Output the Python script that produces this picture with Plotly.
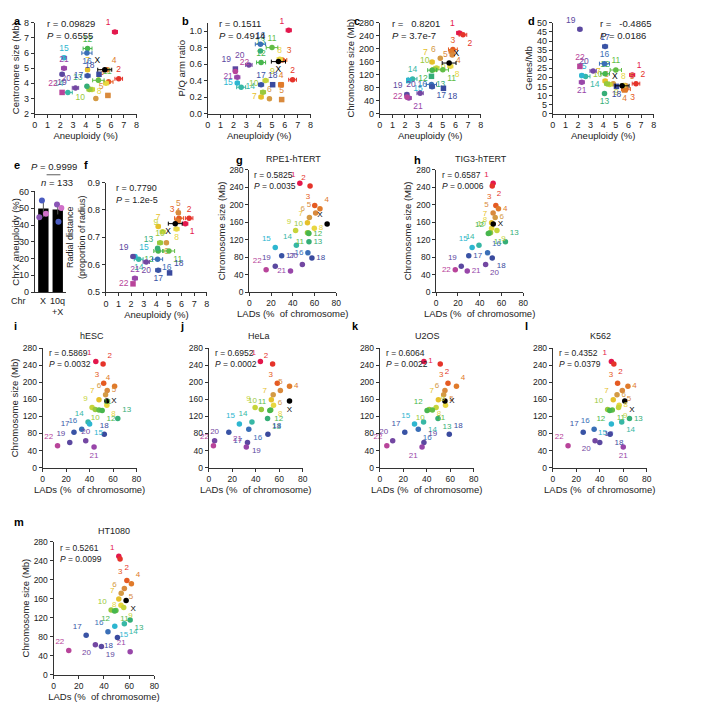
import plotly.graph_objects as go

W, H = 707, 718
FONT = "Liberation Sans, Arial, sans-serif"

# ---------------- data ----------------
chroms = ['1','2','3','4','5','6','7','8','9','10','11','12','13','14','15','16','17','18','19','20','21','22','X']
aneuploidy = [6.3, 6.6, 5.8, 5.7, 5.75, 4.8, 4.15, 5.6, 4.5, 4.3, 5.0, 4.15, 4.1, 2.6, 2.3, 4.1, 4.15, 5.05, 2.15, 3.2, 2.3, 2.15, 5.5]
aneuploidy_err = [0.2, 0.3, 0.35, 0.2, 0.15, 0.1, 0.15, 0.2, 0.2, 0.2, 0.45, 0.35, 0.1, 0.35, 0.15, 0.4, 0.2, 0.1, 0.15, 0.25, 0.2, 0.1, 0.55]
centromere = [7.4, 4.3, 4.1, 4.9, 3.2, 3.0, 4.9, 4.0, 3.6, 3.6, 4.2, 6.3, 3.8, 3.4, 5.7, 6.0, 4.5, 4.6, 4.6, 3.7, 5.0, 3.4, 4.9]
pq_ratio = [1.01, 0.41, 0.65, 0.35, 0.17, 0.18, 0.2, 0.66, 0.4, 0.26, 0.8, 0.62, 0.76, 0.32, 0.37, 0.84, 0.35, 0.35, 0.54, 0.59, 0.44, 0.51, 0.63]
chrom_size = [249, 243, 198, 191, 181, 171, 159, 146, 141, 136, 135, 134, 115, 107, 102, 90, 83, 78, 59, 63, 48, 51, 156]
genes_per_mb = [21.3, 16.5, 13.5, 13.0, 15.5, 16.5, 18.0, 15.5, 16.0, 16.5, 24.0, 22.0, 11.0, 20.5, 21.0, 27.5, 37.0, 15.0, 46.5, 23.5, 17.3, 26.0, 15.3]
radial = [0.75, 0.77, 0.77, 0.76, 0.79, 0.68, 0.74, 0.73, 0.72, 0.68, 0.65, 0.65, 0.66, 0.62, 0.63, 0.62, 0.58, 0.57, 0.63, 0.61, 0.55, 0.53, 0.75]

lad_rpe1 = [46.5, 55.9, 60.2, 65.0, 61.0, 55.3, 53.5, 59.8, 42.6, 53.5, 54.4, 54.8, 54.9, 43.3, 23.9, 53.9, 29.8, 57.6, 23.9, 48.8, 37.9, 15.5, 71.6]
lad_tig3 = [52.4, 51.6, 54.9, 57.3, 52.4, 54.3, 51.0, 51.0, 55.9, 50.0, 49.0, 48.0, 63.7, 39.4, 33.1, 47.3, 30.0, 51.6, 23.1, 45.5, 28.6, 17.6, 52.5]
lad_hesc = [45.3, 51.5, 52.0, 61.3, 55.0, 53.6, 48.0, 54.7, 42.1, 44.8, 48.0, 50.7, 64.0, 38.7, 40.0, 33.3, 26.7, 52.5, 23.1, 36.7, 43.8, 12.7, 54.7]
lad_hela = [44.0, 54.4, 58.4, 68.8, 61.0, 54.9, 53.3, 55.2, 39.5, 44.8, 52.8, 52.0, 50.1, 36.8, 26.1, 34.1, 17.1, 50.4, 33.0, 5.0, 32.0, 4.0, 68.8]
lad_u2os = [37.6, 51.5, 58.1, 65.3, 55.5, 54.4, 49.9, 56.0, 48.0, 42.1, 44.8, 40.3, 49.6, 37.3, 29.6, 32.8, 21.3, 59.2, 37.6, 11.0, 36.0, 6.0, 55.5]
lad_k562 = [49.9, 52.0, 55.2, 64.0, 59.2, 54.7, 51.5, 56.5, 56.0, 46.7, 50.7, 48.5, 65.3, 58.7, 49.9, 35.2, 25.9, 48.8, 40.0, 36.0, 60.0, 13.0, 61.3]
lad_ht1080 = [51.8, 52.8, 58.2, 61.8, 56.2, 53.7, 51.8, 53.5, 55.7, 45.7, 49.5, 48.4, 60.8, 56.2, 48.6, 43.2, 25.9, 50.7, 38.0, 33.2, 60.8, 12.1, 57.6]

e_categories = ['X', '10q+X']
e_means = [49.8, 49.3]
e_err = [5.0, 3.0]
e_rep_values = [[54.6, 46.7, 44.7], [52.2, 50.2, 41.9]]

stats = {
    'a': ('0.09829', '0.6555'), 'b': ('0.1511', '0.4914'), 'c': ('  0.8201', '3.7e-7'),
    'd': ('  -0.4865', '0.0186'), 'f': ('0.7790', '1.2e-5'), 'g': ('0.5825', '0.0035'),
    'h': ('0.6587', '0.0006'), 'i': ('0.5869', '0.0032'), 'j': ('0.6952', '0.0002'),
    'k': ('0.6064', '0.0022'), 'l': ('0.4352', '0.0379'), 'm': ('0.5261', '0.0099'),
}

# ---------------- styles ----------------
colors = ['#E3174C', '#E5332A', '#E55A22', '#E07A2A', '#D98A3D', '#D49A44', '#E6C02A', '#E8D640',
          '#C6D43A', '#98C93C', '#62BD46', '#47B64D', '#35AE77', '#37B7A5', '#2DB6D0', '#3A6FB7',
          '#3953A5', '#3A4A9E', '#5B48A0', '#7347A2', '#9846A9', '#B8449A', '#000000']
rep_colors = [['#4A5BC0', '#D070C8', '#8A55B5'], ['#8A55B5', '#D070C8', '#4A5BC0']]

POS = {'tl': 'top left', 'tc': 'top center', 'tr': 'top right', 'ml': 'middle left',
       'mr': 'middle right', 'bl': 'bottom left', 'bc': 'bottom center', 'br': 'bottom right'}
labpos = {
    'a': ['tl','tc','tl','tr','tl','tl','tc','bl','tr','bl','tr','tc','tl','tl','tc','bc','ml','tl','bc','tl','tc','tl','tl'],
    'b': ['tl','tc','tr','tc','tc','tc','ml','tc','tr','tl','tc','tc','tc','mr','ml','tc','tc','tc','tl','tl','ml','tr','bc'],
    'c': ['tl','br','tc','br','ml','tl','tl','br','mr','tl','br','bl','br','tc','br','ml','br','br','tl','tl','br','ml','tr'],
    'd': ['tr','tr','br','bc','tr','tl','tl','tc','br','tl','tc','tc','bc','br','tc','tc','tc','bc','tl','tl','bc','tc','tl'],
    'f': ['br','tc','tl','tc','tc','bc','tc','bc','tl','tc','br','bl','tl','bc','tr','br','bc','tr','tl','bc','tc','ml','bl'],
    'g': ['tl','tl','tl','tr','tl','tl','tl','mr','tl','tl','bl','mr','mr','tl','tl','ml','mr','mr','tl','tl','ml','tl','tl'],
    'h': ['tl','br','tl','mr','tl','mr','tl','tl','br','tl','br','tl','tr','tl','tl','tr','mr','br','tl','br','mr','ml','mr'],
    'i': ['tl','tr','tl','tl','mr','tl','tl','br','tl','bc','tr','br','tr','tl','br','tl','tl','tc','tl','tc','bc','tl','mr'],
    'j': ['tl','tl','tl','mr','tc','br','tl','br','tl','tl','tl','br','br','tl','tl','br','br','tr','br','tc','tl','tl','bc'],
    'k': ['mr','br','tl','tr','br','tl','tl','bl','tr','bl','br','tl','br','br','tl','br','tl','tr','tr','tl','bl','tl','mr'],
    'l': ['tl','br','tl','mr','br','mr','tl','mr','br','tl','br','bl','mr','br','bl','tl','tl','br','tr','bl','bc','tl','br'],
    'm': ['tl','br','tl','tr','br','tl','tl','ml','br','tl','br','bl','br','br','br','tl','tl','bl','br','bl','tl','tl','br'],
}
squares = {'a': {'5', '18', '22'}, 'b': {'4', '5', '18', '19'}, 'c': {'13', '15', '18'},
           'd': {'4', '18', '22'}, 'f': {'18', '22'}}

LAB = 8.5
TXT = '#222'

def pxx(x):
    return x / W

def pxy(y):
    return 1 - y / H

fig = go.Figure()
layout = {}
annotations = []
shapes = []
axn = [0]

def new_axes(x0, x1, y0, y1, xr, yr, xdt, ydt, xtitle=None, ytitle=None, yfmt=None, tick=9):
    axn[0] += 1
    n = axn[0]
    sfx = '' if n == 1 else str(n)
    common = dict(showline=True, linecolor='#333', linewidth=1, ticks='outside', ticklen=3,
                  tickwidth=1, tickcolor='#333', showgrid=False, zeroline=False,
                  tickfont=dict(size=tick, family=FONT, color=TXT))
    xa = dict(common, domain=[pxx(x0), pxx(x1)], range=xr, dtick=xdt, tick0=0,
              anchor='y' + sfx)
    ya = dict(common, domain=[pxy(y1), pxy(y0)], range=yr, dtick=ydt, tick0=0,
              anchor='x' + sfx)
    if xtitle:
        xa['title'] = dict(text=xtitle, font=dict(size=9.5, family=FONT, color=TXT), standoff=1)
    if ytitle:
        ya['title'] = dict(text=ytitle, font=dict(size=9.5, family=FONT, color=TXT), standoff=2)
    if yfmt:
        ya['tickformat'] = yfmt
    layout['xaxis' + sfx] = xa
    layout['yaxis' + sfx] = ya
    return 'x' + sfx, 'y' + sfx

def text_at(t, x, y, size=9.5, xanchor='center', yanchor='middle', angle=0, bold=False):
    annotations.append(dict(text=('<b>%s</b>' % t) if bold else t, x=pxx(x), y=pxy(y),
                            xref='paper', yref='paper', xanchor=xanchor, yanchor=yanchor,
                            textangle=angle, showarrow=False, align='center',
                            font=dict(size=size, family=FONT, color='black' if bold else TXT)))

def letter(t, x, y):
    text_at(t, x, y, size=11, xanchor='left', yanchor='top', bold=True)

def stat_text(key, x, y, size=9.5):
    r, p = stats[key]
    annotations.append(dict(text='r = %s<br><i>P</i> = %s' % (r, p), x=pxx(x), y=pxy(y),
                            xref='paper', yref='paper', xanchor='left', yanchor='top',
                            align='left', showarrow=False,
                            font=dict(size=size, family=FONT, color=TXT)))

def title_text(t, x, y):
    text_at(t, x, y, size=9, yanchor='bottom')

def aneu_panel(key, yvals, box, yr, ydt, ytitle, yfmt=None):
    x0, x1, y0, y1 = box
    xa, ya = new_axes(x0, x1, y0, y1, [0, 8], yr, 1, ydt, 'Aneuploidy (%)', ytitle, yfmt)
    for i, c in enumerate(chroms):
        sym = 'square' if c in squares.get(key, set()) else 'circle'
        fig.add_trace(go.Scatter(
            x=[aneuploidy[i]], y=[yvals[i]], xaxis=xa, yaxis=ya, mode='markers+text',
            text=[c], textposition=POS[labpos[key][i]],
            textfont=dict(size=LAB, family=FONT, color=colors[i]),
            marker=dict(size=5.5, color=colors[i], symbol=sym),
            error_x=dict(type='data', array=[aneuploidy_err[i]], color=colors[i],
                         thickness=1, width=2),
            showlegend=False, cliponaxis=False))

def lad_panel(key, lads, box, ytitle=True):
    x0, x1, y0, y1 = box
    xa, ya = new_axes(x0, x1, y0, y1, [0, 80], [0, 280], 20, 40,
                      'LADs (%  of chromosome)', 'Chromosome size (Mb)' if ytitle else None,
                      tick=8.5)
    fig.add_trace(go.Scatter(
        x=lads, y=chrom_size, xaxis=xa, yaxis=ya, mode='markers+text',
        text=chroms, textposition=[POS[p] for p in labpos[key]],
        textfont=dict(size=8, family=FONT, color=colors),
        marker=dict(size=5.5, color=colors), showlegend=False, cliponaxis=False))

# ---------------- row 1 ----------------
R1 = (10, 102)
aneu_panel('a', centromere, (24, 127) + R1, [2, 8], 1, 'Centromere size (Mb)')
aneu_panel('b', pq_ratio, (199, 303) + R1, [0, 1.1], 0.2, 'P/Q arm ratio', '.1f')
aneu_panel('c', chrom_size, (373, 475) + R1, [0, 280], 40, 'Chromosome size (Mb)')
aneu_panel('d', genes_per_mb, (548, 650) + R1, [0, 50], 5, 'Genes/Mb')
letter('a', 1, 0); letter('b', 171, 0); letter('c', 345, 0); letter('d', 521, 0)
stat_text('a', 34, 3); stat_text('b', 208, 3); stat_text('c', 383, 3); stat_text('d', 594, 3)

# ---------------- row 2 ----------------
R2 = (172, 283)
xa, ya = new_axes(24, 56, 181, 283, [-0.6, 1.6], [0, 60], 1, 10)
layout['xaxis' + xa[1:]]['showticklabels'] = False
layout['xaxis' + xa[1:]]['ticks'] = ''
fig.add_trace(go.Bar(x=[0, 1], y=e_means, xaxis=xa, yaxis=ya, width=0.72,
                     marker=dict(color='black', line=dict(width=0)),
                     error_y=dict(type='data', array=e_err, color='#555', thickness=1, width=0),
                     showlegend=False))
for k in range(2):
    offs = [-0.1, 0.18, -0.28] if k == 0 else [-0.05, 0.25, 0.05]
    for j in range(3):
        fig.add_trace(go.Scatter(x=[k + offs[j]], y=[e_rep_values[k][j]], xaxis=xa, yaxis=ya,
                                 mode='markers', marker=dict(size=6, color=rep_colors[k][j]),
                                 showlegend=False, cliponaxis=False))
text_at('ChrX aneuploidy (%)', 5, 232, angle=-90)
text_at('<i>P</i> = 0.9999', 43, 156)
shapes.append(dict(type='line', xref='paper', yref='paper', x0=pxx(36), x1=pxx(50),
                   y0=pxy(164), y1=pxy(164), line=dict(color='#777', width=1.2)))
text_at('<i>n</i> = 133', 47, 172)
for t, x, y in [('Chr', 8, 292), (e_categories[0], 32, 292), ('10q', 47, 292), ('+X', 47, 303)]:
    text_at(t, x, y, size=9)
letter('e', 1, 146)

aneu_panel('f', radial, (96, 198) + R2, [0.5, 0.9], 0.1, None, '.1f')
text_at('Radial distance<br>(proportion of radius)', 66, 227, angle=-90, size=9)
letter('f', 72, 146)
stat_text('f', 104, 170, size=9)

R2b = (159, 283)
lad_panel('g', lad_rpe1, (241, 329) + R2b)
letter('g', 226, 141); title_text('RPE1-hTERT', 286, 155); stat_text('g', 244, 157, 8.5)
lad_panel('h', lad_tig3, (430, 518) + R2b)
letter('h', 406, 141); title_text('TIG3-hTERT', 475, 155); stat_text('h', 434, 157, 8.5)

# ---------------- row 3 ----------------
R3 = (340, 461)
lad_panel('i', lad_hesc, (32, 127) + R3)
letter('i', 1, 309); title_text('hESC', 82, 335); stat_text('i', 36, 338, 8.5)
lad_panel('j', lad_hela, (200, 295) + R3, ytitle=False)
letter('j', 169, 309); title_text('HeLa', 251, 335); stat_text('j', 204, 338, 8.5)
lad_panel('k', lad_u2os, (373, 468) + R3, ytitle=False)
letter('k', 343, 309); title_text('U2OS', 421, 335); stat_text('k', 377, 338, 8.5)
lad_panel('l', lad_k562, (548, 643) + R3, ytitle=False)
letter('l', 518, 309); title_text('K562', 596, 335); stat_text('l', 552, 338, 8.5)

# ---------------- row 4 ----------------
lad_panel('m', lad_ht1080, (43, 145, 536, 671))
letter('m', 1, 508); title_text('HT1080', 104, 532); stat_text('m', 48, 535, 8.5)

fig.update_layout(**layout)
fig.update_layout(width=W, height=H, margin=dict(l=0, r=0, t=0, b=0),
                  paper_bgcolor='white', plot_bgcolor='white',
                  annotations=annotations, shapes=shapes,
                  font=dict(family=FONT, color=TXT), showlegend=False)
fig.write_html('out.html')
